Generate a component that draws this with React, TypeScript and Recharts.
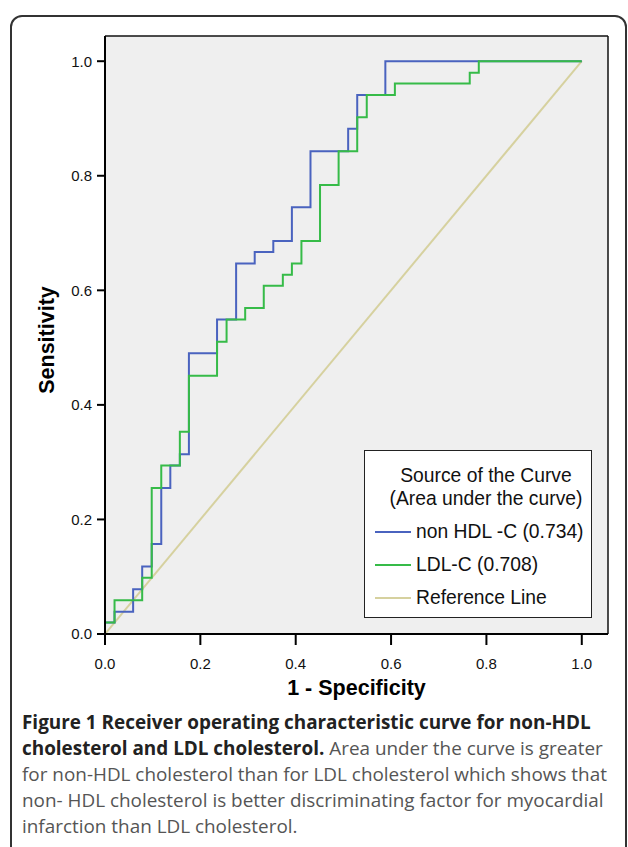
import React from 'react'
import {
  LineChart,
  Line,
  XAxis,
  YAxis,
  CartesianGrid,
  ReferenceLine,
  Legend,
} from 'recharts'

// ROC points (1 - specificity, sensitivity)
const nonHdlX = [
  0, 0, 0.02, 0.02, 0.059, 0.059, 0.078, 0.078, 0.098, 0.098, 0.118, 0.118,
  0.137, 0.137, 0.157, 0.157, 0.176, 0.176, 0.235, 0.235, 0.275, 0.275, 0.314,
  0.314, 0.353, 0.353, 0.392, 0.392, 0.431, 0.431, 0.51, 0.51, 0.529, 0.529,
  0.588, 0.588, 1,
]
const nonHdlY = [
  0, 0.02, 0.02, 0.039, 0.039, 0.078, 0.078, 0.118, 0.118, 0.157, 0.157, 0.255,
  0.255, 0.294, 0.294, 0.314, 0.314, 0.49, 0.49, 0.549, 0.549, 0.647, 0.647,
  0.667, 0.667, 0.686, 0.686, 0.745, 0.745, 0.843, 0.843, 0.882, 0.882, 0.941,
  0.941, 1, 1,
]

const ldlX = [
  0, 0, 0.02, 0.02, 0.078, 0.078, 0.098, 0.098, 0.118, 0.118, 0.157, 0.157,
  0.176, 0.176, 0.235, 0.235, 0.255, 0.255, 0.294, 0.294, 0.333, 0.333, 0.373,
  0.373, 0.392, 0.392, 0.412, 0.412, 0.451, 0.451, 0.49, 0.49, 0.529, 0.529,
  0.549, 0.549, 0.608, 0.608, 0.765, 0.765, 0.784, 0.784, 1,
]
const ldlY = [
  0, 0.02, 0.02, 0.059, 0.059, 0.098, 0.098, 0.255, 0.255, 0.294, 0.294, 0.353,
  0.353, 0.451, 0.451, 0.51, 0.51, 0.549, 0.549, 0.569, 0.569, 0.608, 0.608,
  0.627, 0.627, 0.647, 0.647, 0.686, 0.686, 0.784, 0.784, 0.843, 0.843, 0.902,
  0.902, 0.941, 0.941, 0.961, 0.961, 0.98, 0.98, 1, 1,
]

const refX = [0, 1]
const refY = [0, 1]

const ticks = [0, 0.2, 0.4, 0.6, 0.8, 1]

const legendItems = [
  { name: 'non HDL -C (0.734)', color: '#4a63bf' },
  { name: 'LDL-C (0.708)', color: '#36bb48' },
  { name: 'Reference Line', color: '#d6d19f' },
]

const toPoints = (xs: number[], ys: number[]) =>
  xs.map((x, i) => ({ x, y: ys[i] }))

const axisFont = '"Liberation Sans", Arial, sans-serif'

const LegendBox = () => (
  <div
    style={{
      width: 226,
      height: 166,
      background: '#fff',
      border: '1px solid #222',
      fontFamily: axisFont,
      fontSize: 19.3,
      color: '#111',
      boxSizing: 'content-box',
    }}
  >
    <div
      style={{
        textAlign: 'center',
        marginTop: 13,
        lineHeight: '23px',
        paddingLeft: 16,
        whiteSpace: 'nowrap',
      }}
    >
      Source of the Curve
    </div>
    <div
      style={{
        textAlign: 'center',
        lineHeight: '23px',
        paddingLeft: 16,
        whiteSpace: 'nowrap',
      }}
    >
      (Area under the curve)
    </div>
    {legendItems.map((item, i) => (
      <div
        key={item.name}
        style={{
          display: 'flex',
          alignItems: 'center',
          height: 33,
          marginTop: i === 0 ? 5 : 0,
          whiteSpace: 'nowrap',
        }}
      >
        <div
          style={{
            width: 36,
            height: 2,
            background: item.color,
            marginLeft: 10,
            marginRight: 5,
          }}
        />
        <span>{item.name}</span>
      </div>
    ))}
  </div>
)

const App = () => {
  return (
    <div
      style={{
        position: 'absolute',
        left: 0,
        top: 0,
        width: 628,
        height: 847,
        background: '#fff',
        overflow: 'hidden',
      }}
    >
      <div
        style={{
          position: 'absolute',
          left: 10,
          top: 15,
          width: 613,
          height: 850,
          border: '2px solid #333',
          borderRadius: 12,
        }}
      />
      <div style={{ position: 'absolute', left: 0, top: 0 }}>
        <LineChart
          width={628}
          height={700}
          margin={{ top: 36, right: 20, bottom: 0, left: 0 }}
        >
          <CartesianGrid
            fill="#efefef"
            horizontal={false}
            vertical={false}
          />
          <XAxis
            type="number"
            dataKey="x"
            domain={[0, 1.055]}
            ticks={ticks}
            tickFormatter={(v: number) => v.toFixed(1)}
            height={66}
            tickSize={11}
            tickMargin={13}
            axisLine={{ stroke: '#000', strokeWidth: 2 }}
            tickLine={{ stroke: '#000', strokeWidth: 2 }}
            tick={{ fill: '#111', fontSize: 15, fontFamily: axisFont }}
            allowDataOverflow
            label={{
              value: '1 - Specificity',
              position: 'insideBottom',
              offset: 5,
              style: {
                fontFamily: axisFont,
                fontWeight: 'bold',
                fontSize: 21.5,
                fill: '#000',
              },
            }}
          />
          <YAxis
            type="number"
            dataKey="y"
            domain={[0, 1.044]}
            ticks={ticks}
            tickFormatter={(v: number) => v.toFixed(1)}
            width={105}
            tickSize={8}
            tickMargin={5}
            axisLine={{ stroke: '#000', strokeWidth: 2 }}
            tickLine={{ stroke: '#000', strokeWidth: 2 }}
            tick={{ fill: '#111', fontSize: 15, fontFamily: axisFont }}
            allowDataOverflow
            label={{
              content: (props: any) => {
                const vb = props.viewBox
                const cx = vb.x + 47
                const cy = vb.y + vb.height / 2 + 5
                return (
                  <text
                    x={cx}
                    y={cy}
                    transform={`rotate(-90 ${cx} ${cy})`}
                    textAnchor="middle"
                    dominantBaseline="central"
                    style={{
                      fontFamily: axisFont,
                      fontWeight: 'bold',
                      fontSize: 21.5,
                      fill: '#000',
                    }}
                  >
                    Sensitivity
                  </text>
                )
              },
            }}
          />
          <ReferenceLine y={1.044} stroke="#111" strokeWidth={1.5} />
          <ReferenceLine x={1.055} stroke="#111" strokeWidth={1.5} />
          <Line
            data={toPoints(refX, refY)}
            dataKey="y"
            type="linear"
            stroke="#d6d19f"
            strokeWidth={2}
            dot={false}
            isAnimationActive={false}
          />
          <Line
            data={toPoints(nonHdlX, nonHdlY)}
            dataKey="y"
            type="linear"
            stroke="#4a63bf"
            strokeWidth={2}
            dot={false}
            isAnimationActive={false}
          />
          <Line
            data={toPoints(ldlX, ldlY)}
            dataKey="y"
            type="linear"
            stroke="#36bb48"
            strokeWidth={2}
            dot={false}
            isAnimationActive={false}
          />
          <Legend
            content={() => <LegendBox />}
            wrapperStyle={{
              position: 'absolute',
              left: 364,
              top: 450,
              width: 228,
              height: 0,
              overflow: 'visible',
            }}
          />
        </LineChart>
      </div>
      <div
        style={{
          position: 'absolute',
          left: 22,
          top: 709,
          fontFamily: '"Open Sans", sans-serif',
          fontSize: 18.9,
          lineHeight: '26px',
          color: '#555',
          whiteSpace: 'nowrap',
        }}
      >
        <div style={{ fontWeight: 'bold', color: '#222' }}>
          Figure 1 Receiver operating characteristic curve for non-HDL
        </div>
        <div>
          <span style={{ fontWeight: 'bold', color: '#222' }}>
            cholesterol and LDL cholesterol.
          </span>{' '}
          Area under the curve is greater
        </div>
        <div>for non-HDL cholesterol than for LDL cholesterol which shows that</div>
        <div>non- HDL cholesterol is better discriminating factor for myocardial</div>
        <div>infarction than LDL cholesterol.</div>
      </div>
    </div>
  )
}

export default App
